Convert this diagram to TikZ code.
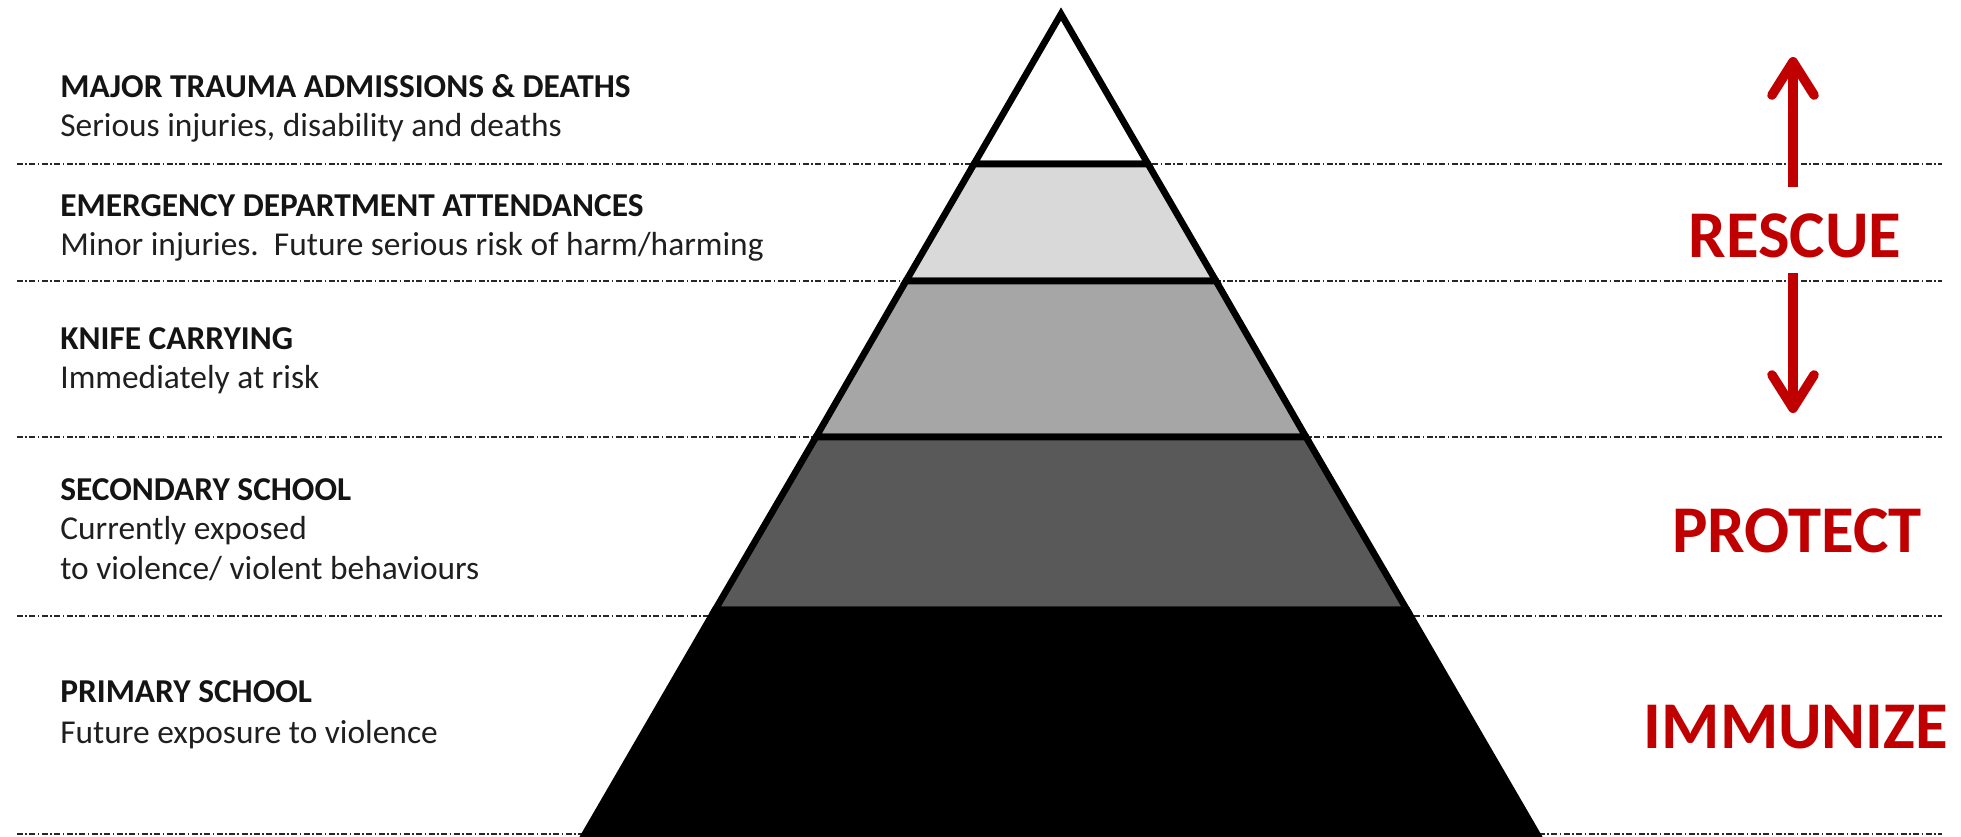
\documentclass[tikz,border=0pt]{standalone}
\usepackage{fontspec}
\setmainfont{Carlito}
\usetikzlibrary{positioning,arrows.meta}
\definecolor{TagRed}{HTML}{C00000}
\definecolor{BandB}{HTML}{D9D9D9}
\definecolor{BandC}{HTML}{A6A6A6}
\definecolor{BandD}{HTML}{595959}

\begin{document}
\begin{tikzpicture}[
  x=0.02cm, y=-0.02cm,
  head/.style={anchor=base west,inner sep=0pt,text=black!92,
               font=\fontsize{19}{22}\selectfont\bfseries},
  sub/.style={anchor=base west,inner sep=0pt,text=black!88,
              font=\fontsize{19}{22}\selectfont},
  tag/.style={anchor=base,inner sep=0pt,text=TagRed,
              font=\fontsize{38}{41}\selectfont\bfseries},
  band/.style={draw=black,line width=3.8pt,line join=miter},
  sep/.style={draw=black!85,line width=0.85pt,
              dash pattern=on 3.4pt off 1.4pt on 0.9pt off 1.4pt},
  ar/.style={-{Straight Barb[length=19pt,width=24pt,round]},draw=TagRed,line width=5.4pt},
]
\useasboundingbox (0,0) rectangle (1961,836);

% level separators
\draw[sep] (17,164) -- (1942,164);
\draw[sep] (17,281) -- (1942,281);
\draw[sep] (17,437) -- (1942,437);
\draw[sep] (17,616) -- (1942,616);
\draw[sep] (17,834) -- (1942,834);

% pyramid, top to bottom
\filldraw[band,fill=white] (1061,14) -- (1148,164) -- (974,164) -- cycle;
\filldraw[band,fill=BandB] (974,164) -- (1148,164) -- (1216,281) -- (906,281) -- cycle;
\filldraw[band,fill=BandC] (906,281) -- (1216,281) -- (1306,437) -- (816,437) -- cycle;
\filldraw[band,fill=BandD] (816,437) -- (1306,437) -- (1407,610) -- (715,610) -- cycle;
\filldraw[band,fill=black] (715,610) -- (1407,610) -- (1544,846) -- (578,846) -- cycle;

% left labels
\node[head] (h1) at (60,97) {MAJOR TRAUMA ADMISSIONS \& DEATHS};
\node[sub,below=22.7pt of h1.base west,anchor=base west] (s1) {Serious injuries, disability and deaths};
\node[head] (h2) at (60,216) {EMERGENCY DEPARTMENT ATTENDANCES};
\node[sub,below=22.7pt of h2.base west,anchor=base west] (s2) {Minor injuries.\ \ Future serious risk of harm/harming};
\node[head] (h3) at (60,349) {KNIFE CARRYING};
\node[sub,below=22.7pt of h3.base west,anchor=base west] (s3) {Immediately at risk};
\node[head] (h4) at (60,500) {SECONDARY SCHOOL};
\node[sub,below=22.7pt of h4.base west,anchor=base west] (s4a) {Currently exposed};
\node[sub,below=22.7pt of s4a.base west,anchor=base west] (s4b) {to violence/ violent behaviours};
\node[head] (h5) at (60,702) {PRIMARY SCHOOL};
\node[sub,below=23.5pt of h5.base west,anchor=base west] (s5) {Future exposure to violence};

% right labels
\node[tag] (rescue) at (1795,257) {RESCUE};
\node[tag] (protect) at (1797,552) {PROTECT};
\node[tag] (immunize) at (1796,748) {IMMUNIZE};
\coordinate (upTip) at (1793,57);
\coordinate (downTip) at (1793,413);
\draw[ar] ([yshift=15pt]rescue.north -| upTip) -- (upTip);
\draw[ar] ([yshift=-8.5pt]rescue.south -| downTip) -- (downTip);
\end{tikzpicture}
\end{document}
